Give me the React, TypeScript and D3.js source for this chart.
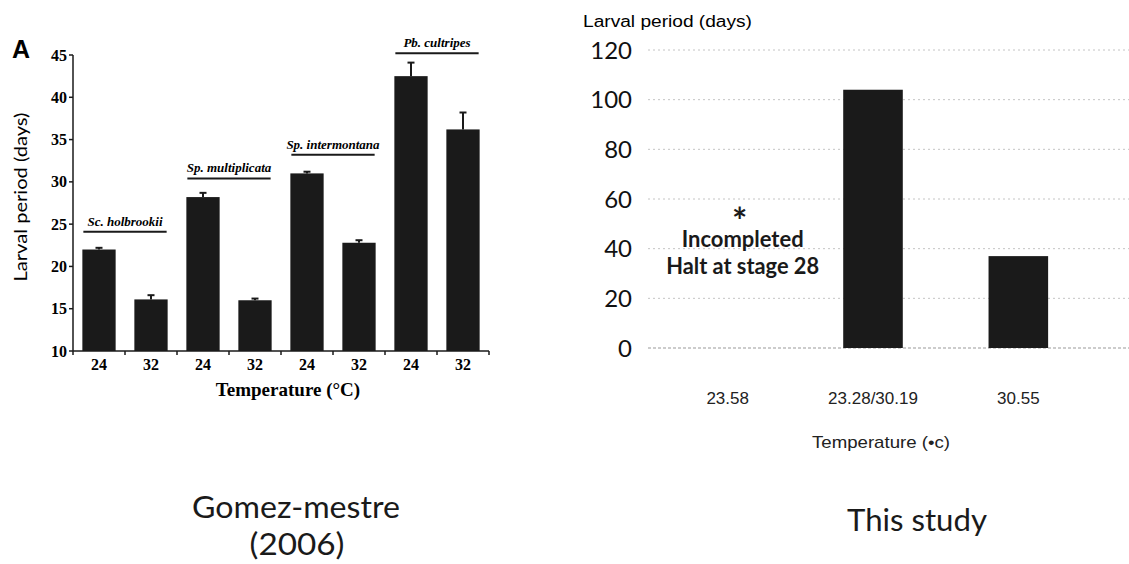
import React from "react";
import * as d3 from "d3";

// left panel: Gomez-Mestre (2006)
const leftTemps = ["24", "32", "24", "32", "24", "32", "24", "32"];
const leftMeans = [22, 16.1, 28.2, 16, 31, 22.8, 42.5, 36.2];
const leftErrTop = [22.2, 16.6, 28.7, 16.2, 31.2, 23.1, 44.1, 38.2];
const leftTicks = [10, 15, 20, 25, 30, 35, 40, 45];
const species = ["Sc. holbrookii", "Sp. multiplicata", "Sp. intermontana", "Pb. cultripes"];
const speciesLevel = [24.1, 30.4, 33.2, 45.2];

// right panel: this study
const rightCats = ["23.58", "23.28/30.19", "30.55"];
const rightValues = [null, 104, 37];
const rightTicks = [0, 20, 40, 60, 80, 100, 120];

const BAR = "#1a1a1a";
const SERIF = "'Liberation Serif', 'Times New Roman', serif";
const CAL = "Lato, 'Open Sans', sans-serif";
const ARIAL = "'Liberation Sans', Arial, sans-serif";

export default function App() {
  const W = 1129;
  const H = 564;

  const xL = d3.scaleBand<number>().domain(d3.range(leftMeans.length)).range([73, 489]).paddingInner(0.36).paddingOuter(0.18);
  const yL = d3.scaleLinear().domain([10, 45]).range([351, 55]);
  const stepL = xL.step();

  const xR = d3.scaleBand<string>().domain(rightCats).range([655, 1091]).paddingInner(0.59).paddingOuter(0.295);
  const yR = d3.scaleLinear().domain([0, 120]).range([348, 50]);
  const noteX = xR(rightCats[0])! + xR.bandwidth() / 2 + 15;

  return (
    <svg width={W} height={H} style={{ position: "absolute", left: 0, top: 0, background: "#fff" }}>
      {/* ---------- left chart ---------- */}
      <text x={12} y={58} fontFamily={ARIAL} fontWeight="bold" fontSize={25}>A</text>
      <g>
        {leftMeans.map((v, i) => (
          <rect key={i} x={xL(i)} y={yL(v)} width={xL.bandwidth()} height={yL(10) - yL(v)} fill={BAR} />
        ))}
        {leftErrTop.map((e, i) => {
          const cx = xL(i)! + xL.bandwidth() / 2;
          return (
            <g key={i} stroke={BAR} strokeWidth={2}>
              <line x1={cx} x2={cx} y1={yL(leftMeans[i])} y2={yL(e)} />
              <line x1={cx - 3.5} x2={cx + 3.5} y1={yL(e)} y2={yL(e)} />
            </g>
          );
        })}
        {/* axes */}
        <line x1={73} x2={73} y1={yL(45)} y2={yL(10)} stroke={BAR} strokeWidth={1.5} />
        <line x1={73} x2={489} y1={yL(10)} y2={yL(10)} stroke={BAR} strokeWidth={1.5} />
        {leftTicks.map((t) => (
          <g key={t}>
            <line x1={69} x2={73} y1={yL(t)} y2={yL(t)} stroke={BAR} strokeWidth={1.5} />
            <text x={67} y={yL(t)} dy="0.35em" textAnchor="end" fontFamily={SERIF} fontWeight="bold" fontSize={16}>{t}</text>
          </g>
        ))}
        {d3.range(leftMeans.length + 1).map((i) => (
          <line key={i} x1={73 + i * stepL} x2={73 + i * stepL} y1={yL(10)} y2={yL(10) + 4} stroke={BAR} strokeWidth={1.5} />
        ))}
        {leftTemps.map((t, i) => (
          <text key={i} x={xL(i)! + xL.bandwidth() / 2} y={370} textAnchor="middle" fontFamily={SERIF} fontWeight="bold" fontSize={16}>{t}</text>
        ))}
        {species.map((s, g) => {
          const x1 = xL(g * 2)! + 1;
          const x2 = xL(g * 2 + 1)! + xL.bandwidth() - 1;
          const y = yL(speciesLevel[g]);
          return (
            <g key={s}>
              <line x1={x1} x2={x2} y1={y} y2={y} stroke={BAR} strokeWidth={2} />
              <text x={(x1 + x2) / 2} y={y - 6} textAnchor="middle" fontFamily={SERIF} fontWeight="bold" fontStyle="italic" fontSize={13}>{s}</text>
            </g>
          );
        })}
        <text transform="translate(27,197) rotate(-90)" textAnchor="middle" fontFamily={CAL} fontSize={17} textLength={169} lengthAdjust="spacingAndGlyphs">Larval period (days)</text>
        <text x={288} y={396} textAnchor="middle" fontFamily={SERIF} fontWeight="bold" fontSize={19}>Temperature (°C)</text>
      </g>

      {/* ---------- right chart ---------- */}
      <g>
        <text x={583} y={27} fontFamily={ARIAL} fontSize={16} textLength={169} lengthAdjust="spacingAndGlyphs">Larval period (days)</text>
        {rightTicks.map((t) => (
          <g key={t}>
            <line x1={648} x2={W} y1={yR(t)} y2={yR(t)} stroke={t === 0 ? "#999" : "#c4c4c4"} strokeWidth={1} strokeDasharray={t === 0 ? "3,2" : "2,3"} />
            <text x={632} y={yR(t)} dy="0.36em" textAnchor="end" fontFamily={CAL} fontSize={24} fill="#111">{t}</text>
          </g>
        ))}
        {rightValues.map((v, i) =>
          v == null ? null : (
            <rect key={i} x={xR(rightCats[i])} y={yR(v)} width={xR.bandwidth()} height={yR(0) - yR(v)} fill={BAR} />
          )
        )}
        {rightCats.map((c) => (
          <text key={c} x={xR(c)! + xR.bandwidth() / 2} y={404} textAnchor="middle" fontFamily={ARIAL} fontSize={17} fill="#222">{c}</text>
        ))}
        <text x={881} y={448} textAnchor="middle" fontFamily={ARIAL} fontSize={17} fill="#222" textLength={138} lengthAdjust="spacingAndGlyphs">Temperature (•c)</text>
        <text textAnchor="middle" fontFamily={CAL} fontWeight="bold" fill="#1a1a1a">
          <tspan x={noteX - 3} y={234} fontSize={36}>*</tspan>
          <tspan x={noteX} y={247} fontSize={22} textLength={122} lengthAdjust="spacingAndGlyphs">Incompleted</tspan>
          <tspan x={noteX} y={274} fontSize={22} textLength={153} lengthAdjust="spacingAndGlyphs">Halt at stage 28</tspan>
        </text>
      </g>

      {/* captions */}
      <text x={296} y={518} textAnchor="middle" fontFamily={CAL} fontSize={31} fill="#1a1a1a" textLength={208} lengthAdjust="spacingAndGlyphs">Gomez-mestre</text>
      <text x={297} y={555} textAnchor="middle" fontFamily={CAL} fontSize={30} fill="#1a1a1a" textLength={95} lengthAdjust="spacingAndGlyphs">(2006)</text>
      <text x={917} y={531} textAnchor="middle" fontFamily={CAL} fontSize={31} fill="#1a1a1a" textLength={140} lengthAdjust="spacingAndGlyphs">This study</text>
    </svg>
  );
}
